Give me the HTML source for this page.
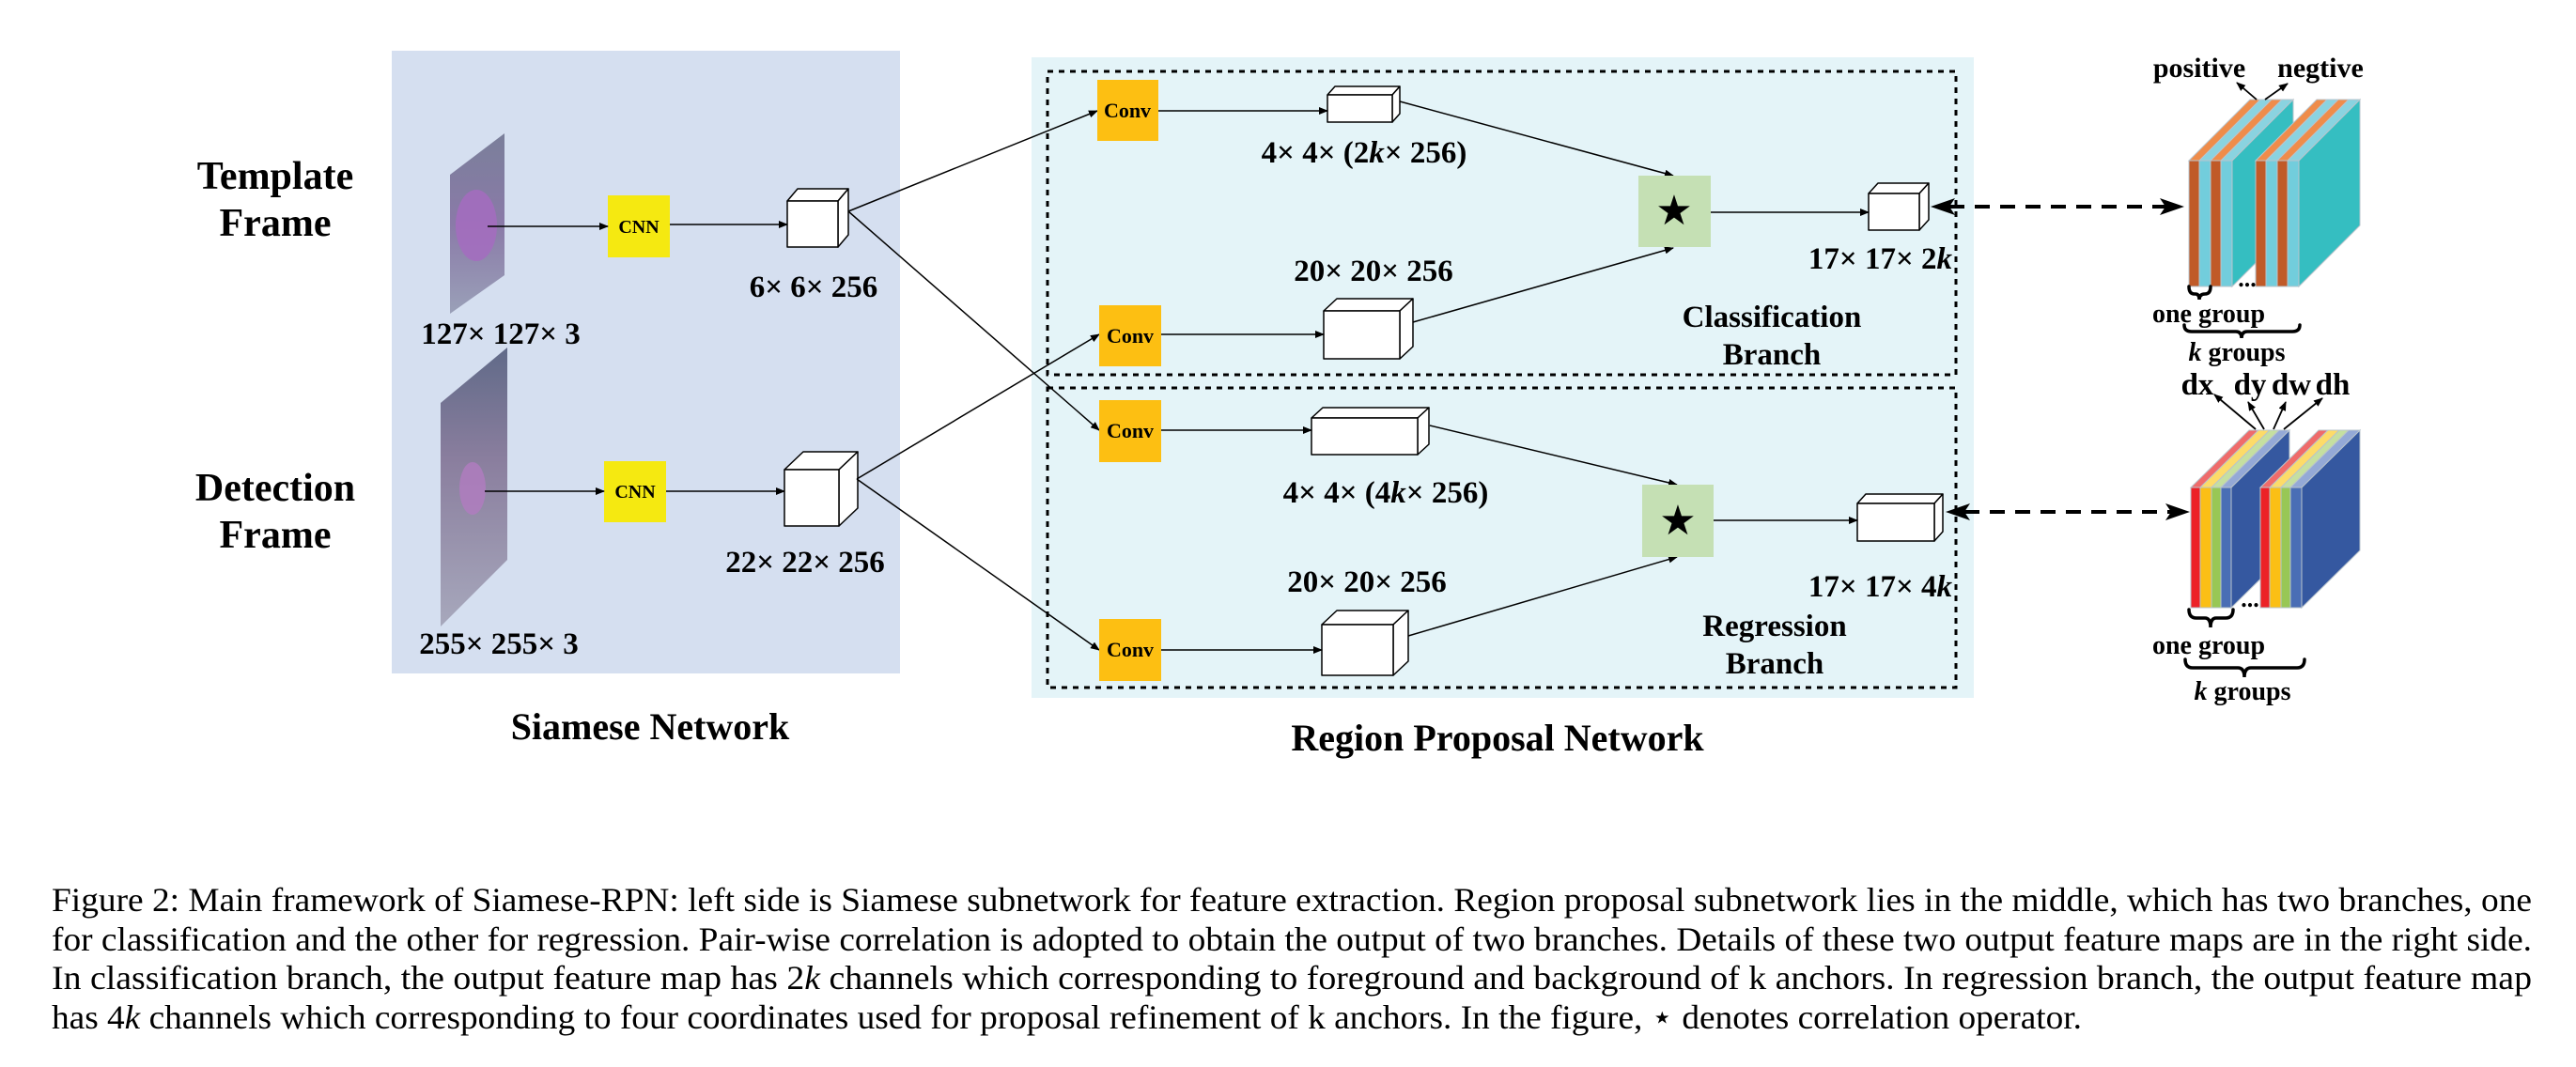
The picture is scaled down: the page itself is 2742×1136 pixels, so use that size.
<!DOCTYPE html>
<html><head><meta charset="utf-8"><style>
html,body{margin:0;padding:0;background:#fff;}
svg{display:block;font-family:"Liberation Serif","Times New Roman",Times,serif;}
svg text{font-family:"Liberation Serif","Times New Roman",Times,serif;}
.b{font-weight:bold;}
</style></head><body>
<svg width="2742" height="1136" viewBox="0 0 2742 1136" xmlns="http://www.w3.org/2000/svg" font-family="Liberation Serif, Times New Roman, serif">
<defs>
<marker id="ah" markerWidth="10" markerHeight="8" refX="9" refY="4" orient="auto" markerUnits="userSpaceOnUse"><path d="M0,0 L10,4 L0,8 z" fill="#000"/></marker>
<linearGradient id="g1" x1="0" y1="0" x2="0" y2="1"><stop offset="0" stop-color="#7a7f9a"/><stop offset="0.5" stop-color="#8a7aa8"/><stop offset="1" stop-color="#9aa0b8"/></linearGradient>
<linearGradient id="g2" x1="0" y1="0" x2="0" y2="1"><stop offset="0" stop-color="#606a88"/><stop offset="0.4" stop-color="#8a7e9e"/><stop offset="1" stop-color="#a7a8bc"/></linearGradient>
</defs>

<rect x="417" y="54" width="541" height="663" fill="#d5dff0"/>
<rect x="1098" y="61" width="1003" height="682" fill="#e4f4f8"/>
<rect x="1115" y="76" width="967" height="323" fill="none" stroke="#000" stroke-width="3" stroke-dasharray="6 6"/>
<rect x="1115" y="413" width="967" height="319" fill="none" stroke="#000" stroke-width="3" stroke-dasharray="6 6"/>

<text class="b" x="293" y="201" font-size="42" text-anchor="middle">Template</text>
<text class="b" x="293" y="251" font-size="42" text-anchor="middle">Frame</text>
<text class="b" x="293" y="533" font-size="42" text-anchor="middle">Detection</text>
<text class="b" x="293" y="583" font-size="42" text-anchor="middle">Frame</text>

<polygon points="479,186 537,142 537,293 479,334" fill="url(#g1)"/>
<ellipse cx="507" cy="240" rx="22" ry="38" fill="#a46cc0" opacity="0.85"/>
<polygon points="469,429 540,370 540,596 469,667" fill="url(#g2)"/>
<ellipse cx="503" cy="520" rx="14" ry="28" fill="#b27cc0" opacity="0.8"/>

<rect x="647" y="208" width="66" height="66" fill="#f5e911"/>
<text class="b" x="680" y="248" font-size="20" text-anchor="middle">CNN</text>
<rect x="643" y="491" width="66" height="65" fill="#f5e911"/>
<text class="b" x="676" y="530" font-size="20" text-anchor="middle">CNN</text>
<line x1="519" y1="241" x2="647" y2="241" stroke="#000" stroke-width="1.5" marker-end="url(#ah)"/>
<line x1="713" y1="239" x2="838" y2="239" stroke="#000" stroke-width="1.5" marker-end="url(#ah)"/>
<line x1="516" y1="523" x2="643" y2="523" stroke="#000" stroke-width="1.5" marker-end="url(#ah)"/>
<line x1="709" y1="523" x2="835" y2="523" stroke="#000" stroke-width="1.5" marker-end="url(#ah)"/>

<g fill="#fff" stroke="#000" stroke-width="1.5" stroke-linejoin="round">
<polygon points="838,214 849,201 903,201 892,214"/><polygon points="892,214 903,201 903,250 892,263"/><rect x="838" y="214" width="54" height="49"/>
<polygon points="835,500 855,481 913,481 893,500"/><polygon points="893,500 913,481 913,541 893,560"/><rect x="835" y="500" width="58" height="60"/>
<polygon points="1413,101 1421,92 1490,92 1482,101"/><polygon points="1482,101 1490,92 1490,121 1482,130"/><rect x="1413" y="101" width="69" height="29"/>
<polygon points="1409,331 1423,318 1504,318 1490,331"/><polygon points="1490,331 1504,318 1504,369 1490,382"/><rect x="1409" y="331" width="81" height="51"/>
<polygon points="1989,206 1999,195 2053,195 2043,206"/><polygon points="2043,206 2053,195 2053,234 2043,245"/><rect x="1989" y="206" width="54" height="39"/>
<polygon points="1396,445 1408,434 1521,434 1509,445"/><polygon points="1509,445 1521,434 1521,473 1509,484"/><rect x="1396" y="445" width="113" height="39"/>
<polygon points="1407,665 1423,650 1499,650 1483,665"/><polygon points="1483,665 1499,650 1499,704 1483,719"/><rect x="1407" y="665" width="76" height="54"/>
<polygon points="1977,536 1986,526 2068,526 2059,536"/><polygon points="2059,536 2068,526 2068,566 2059,576"/><rect x="1977" y="536" width="82" height="40"/>
</g>

<text class="b" x="866" y="316" font-size="33" text-anchor="middle">6× 6× 256</text>
<text class="b" x="533" y="366" font-size="33" text-anchor="middle">127× 127× 3</text>
<text class="b" x="857" y="609" font-size="33" text-anchor="middle">22× 22× 256</text>
<text class="b" x="531" y="696" font-size="33" text-anchor="middle">255× 255× 3</text>
<text class="b" x="692" y="787" font-size="40" text-anchor="middle">Siamese Network</text>

<g stroke="#000" stroke-width="1.5" fill="none">
<line x1="903" y1="225" x2="1168" y2="118" marker-end="url(#ah)"/>
<line x1="903" y1="225" x2="1170" y2="458" marker-end="url(#ah)"/>
<line x1="912" y1="510" x2="1170" y2="356" marker-end="url(#ah)"/>
<line x1="912" y1="510" x2="1170" y2="692" marker-end="url(#ah)"/>
<line x1="1233" y1="118" x2="1413" y2="118" marker-end="url(#ah)"/>
<line x1="1236" y1="356" x2="1409" y2="356" marker-end="url(#ah)"/>
<line x1="1236" y1="458" x2="1396" y2="458" marker-end="url(#ah)"/>
<line x1="1236" y1="692" x2="1407" y2="692" marker-end="url(#ah)"/>
<line x1="1490" y1="108" x2="1781" y2="187" marker-end="url(#ah)"/>
<line x1="1504" y1="343" x2="1781" y2="264" marker-end="url(#ah)"/>
<line x1="1522" y1="453" x2="1785" y2="516" marker-end="url(#ah)"/>
<line x1="1499" y1="677" x2="1785" y2="593" marker-end="url(#ah)"/>
<line x1="1821" y1="226" x2="1989" y2="226" marker-end="url(#ah)"/>
<line x1="1824" y1="554" x2="1977" y2="554" marker-end="url(#ah)"/>
</g>

<g fill="#fdbf12">
<rect x="1168" y="85" width="65" height="65"/>
<rect x="1170" y="325" width="66" height="65"/>
<rect x="1170" y="426" width="66" height="66"/>
<rect x="1170" y="659" width="66" height="66"/>
</g>
<text x="1200" y="125" class="b" font-size="22" text-anchor="middle">Conv</text>
<text x="1203" y="365" class="b" font-size="22" text-anchor="middle">Conv</text>
<text x="1203" y="466" class="b" font-size="22" text-anchor="middle">Conv</text>
<text x="1203" y="699" class="b" font-size="22" text-anchor="middle">Conv</text>

<rect x="1744" y="187" width="77" height="76" fill="#c5e0b4"/>
<text x="1782" y="239" font-size="44" text-anchor="middle" font-family="DejaVu Sans,sans-serif" style="font-family:'DejaVu Sans',sans-serif">★</text>
<rect x="1748" y="516" width="76" height="77" fill="#c5e0b4"/>
<text x="1786" y="569" font-size="44" text-anchor="middle" font-family="DejaVu Sans,sans-serif" style="font-family:'DejaVu Sans',sans-serif">★</text>

<text class="b" x="1452" y="173" font-size="33" text-anchor="middle">4× 4× (2<tspan font-style="italic">k</tspan>× 256)</text>
<text class="b" x="1462" y="299" font-size="33" text-anchor="middle">20× 20× 256</text>
<text class="b" x="2078" y="286" font-size="33" text-anchor="end">17× 17× 2<tspan font-style="italic">k</tspan></text>
<text class="b" x="1886" y="348" font-size="33" text-anchor="middle">Classification</text>
<text class="b" x="1886" y="388" font-size="33" text-anchor="middle">Branch</text>
<text class="b" x="1475" y="535" font-size="33" text-anchor="middle">4× 4× (4<tspan font-style="italic">k</tspan>× 256)</text>
<text class="b" x="1455" y="630" font-size="33" text-anchor="middle">20× 20× 256</text>
<text class="b" x="2078" y="635" font-size="33" text-anchor="end">17× 17× 4<tspan font-style="italic">k</tspan></text>
<text class="b" x="1889" y="677" font-size="33" text-anchor="middle">Regression</text>
<text class="b" x="1889" y="717" font-size="33" text-anchor="middle">Branch</text>
<text class="b" x="1594" y="799" font-size="40" text-anchor="middle">Region Proposal Network</text>

<g stroke="#000" stroke-width="4" stroke-dasharray="16 11" fill="none">
<line x1="2075" y1="220" x2="2305" y2="220"/>
<line x1="2091" y1="545" x2="2311" y2="545"/>
</g>
<path d="M2055,220 L2081,211 L2075,220 L2081,229 z" fill="#000"/>
<path d="M2325,220 L2299,211 L2305,220 L2299,229 z" fill="#000"/>
<path d="M2071,545 L2097,536 L2091,545 L2097,554 z" fill="#000"/>
<path d="M2331,545 L2305,536 L2311,545 L2305,554 z" fill="#000"/>

<g stroke="#b9c4cc" stroke-width="1">
<polygon points="2376,171 2441,106 2441,240 2376,305" fill="#35bec1"/>
<polygon points="2330,171 2395,106 2406,106 2341,171" fill="#ef8c4a"/>
<polygon points="2341,171 2406,106 2418,106 2353,171" fill="#8ad3e0"/>
<polygon points="2353,171 2418,106 2429,106 2364,171" fill="#ef8c4a"/>
<polygon points="2364,171 2429,106 2441,106 2376,171" fill="#8ad3e0"/>
<rect x="2330" y="171" width="11" height="134" fill="#c05a28"/>
<rect x="2341" y="171" width="12" height="134" fill="#72cddc"/>
<rect x="2353" y="171" width="11" height="134" fill="#c05a28"/>
<rect x="2364" y="171" width="12" height="134" fill="#72cddc"/>
<polygon points="2447,171 2512,106 2512,240 2447,305" fill="#35bec1"/>
<polygon points="2401,171 2466,106 2477,106 2412,171" fill="#ef8c4a"/>
<polygon points="2412,171 2477,106 2489,106 2424,171" fill="#8ad3e0"/>
<polygon points="2424,171 2489,106 2500,106 2435,171" fill="#ef8c4a"/>
<polygon points="2435,171 2500,106 2512,106 2447,171" fill="#8ad3e0"/>
<rect x="2401" y="171" width="11" height="134" fill="#c05a28"/>
<rect x="2412" y="171" width="12" height="134" fill="#72cddc"/>
<rect x="2424" y="171" width="11" height="134" fill="#c05a28"/>
<rect x="2435" y="171" width="12" height="134" fill="#72cddc"/>
</g>
<g stroke="#b9c4cc" stroke-width="1">
<polygon points="2375,519 2437,458 2437,586 2375,647" fill="#3558a0"/>
<polygon points="2332,519 2394,458 2404,458 2342,519" fill="#ef6b6b"/>
<polygon points="2342,519 2404,458 2416,458 2354,519" fill="#fddb68"/>
<polygon points="2354,519 2416,458 2426,458 2364,519" fill="#c5dfa0"/>
<polygon points="2364,519 2426,458 2437,458 2375,519" fill="#94a9d6"/>
<rect x="2332" y="519" width="10" height="128" fill="#ec2227"/>
<rect x="2342" y="519" width="12" height="128" fill="#fbbf15"/>
<rect x="2354" y="519" width="10" height="128" fill="#98c755"/>
<rect x="2364" y="519" width="11" height="128" fill="#4a6eb5"/>
<polygon points="2450,519 2512,458 2512,586 2450,647" fill="#3558a0"/>
<polygon points="2406,519 2468,458 2478,458 2416,519" fill="#ef6b6b"/>
<polygon points="2416,519 2478,458 2490,458 2428,519" fill="#fddb68"/>
<polygon points="2428,519 2490,458 2500,458 2438,519" fill="#c5dfa0"/>
<polygon points="2438,519 2500,458 2512,458 2450,519" fill="#94a9d6"/>
<rect x="2406" y="519" width="10" height="128" fill="#ec2227"/>
<rect x="2416" y="519" width="12" height="128" fill="#fbbf15"/>
<rect x="2428" y="519" width="10" height="128" fill="#98c755"/>
<rect x="2438" y="519" width="12" height="128" fill="#4a6eb5"/>
</g>

<g stroke="#000" stroke-width="1.8" fill="none">
<line x1="2402" y1="106" x2="2381" y2="88" marker-end="url(#ah)"/>
<line x1="2411" y1="106" x2="2435" y2="89" marker-end="url(#ah)"/>
<line x1="2401" y1="457" x2="2357" y2="420" marker-end="url(#ah)"/>
<line x1="2410" y1="457" x2="2393" y2="428" marker-end="url(#ah)"/>
<line x1="2420" y1="457" x2="2433" y2="428" marker-end="url(#ah)"/>
<line x1="2431" y1="457" x2="2472" y2="424" marker-end="url(#ah)"/>
</g>
<text class="b" x="2341" y="82" font-size="30" text-anchor="middle">positive</text>
<text class="b" x="2470" y="82" font-size="30" text-anchor="middle">negtive</text>
<text class="b" x="2339" y="420" font-size="33" text-anchor="middle">dx</text>
<text class="b" x="2395" y="420" font-size="33" text-anchor="middle">dy</text>
<text class="b" x="2439" y="420" font-size="33" text-anchor="middle">dw</text>
<text class="b" x="2483" y="420" font-size="33" text-anchor="middle">dh</text>
<text class="b" x="2392" y="305" font-size="26" text-anchor="middle">...</text>
<text class="b" x="2395" y="646" font-size="26" text-anchor="middle">...</text>

<g stroke="#000" stroke-width="3.5" fill="none" stroke-linecap="round">
<path d="M2330,305 Q2330,313 2336,313 L2337,313 Q2341,313 2341,319 Q2341,313 2347,313 Q2353,313 2353,305"/>
<path d="M2325,346 Q2325,353 2333,353 L2380,353 Q2386,353 2386,360 Q2386,353 2392,353 L2440,353 Q2448,353 2448,346"/>
<path d="M2330,649 Q2330,658 2338,658 L2347,658 Q2353,658 2353,668 Q2353,658 2359,658 L2369,658 Q2377,658 2377,649"/>
<path d="M2326,702 Q2326,711 2334,711 L2382,711 Q2389,711 2389,721 Q2389,711 2396,711 L2445,711 Q2453,711 2453,702"/>
</g>
<text class="b" x="2351" y="343" font-size="28" text-anchor="middle">one group</text>
<text class="b" x="2381" y="384" font-size="28" text-anchor="middle"><tspan font-style="italic">k</tspan> groups</text>
<text class="b" x="2351" y="696" font-size="28" text-anchor="middle">one group</text>
<text class="b" x="2387" y="745" font-size="28" text-anchor="middle"><tspan font-style="italic">k</tspan> groups</text>

<text x="55" y="970" font-size="36" textLength="2640" lengthAdjust="spacingAndGlyphs">Figure 2: Main framework of Siamese-RPN: left side is Siamese subnetwork for feature extraction. Region proposal subnetwork lies in the middle, which has two branches, one</text>
<text x="55" y="1012" font-size="36" textLength="2640" lengthAdjust="spacingAndGlyphs">for classification and the other for regression. Pair-wise correlation is adopted to obtain the output of two branches. Details of these two output feature maps are in the right side.</text>
<text x="55" y="1053" font-size="36" textLength="2640" lengthAdjust="spacingAndGlyphs">In classification branch, the output feature map has 2<tspan font-style="italic">k</tspan> channels which corresponding to foreground and background of k anchors.  In regression branch, the output feature map</text>
<text x="55" y="1095" font-size="36" textLength="2161" lengthAdjust="spacingAndGlyphs">has 4<tspan font-style="italic">k</tspan> channels which corresponding to four coordinates used for proposal refinement of k anchors. In the figure, ⋆ denotes correlation operator.</text>
</svg>
</body></html>
